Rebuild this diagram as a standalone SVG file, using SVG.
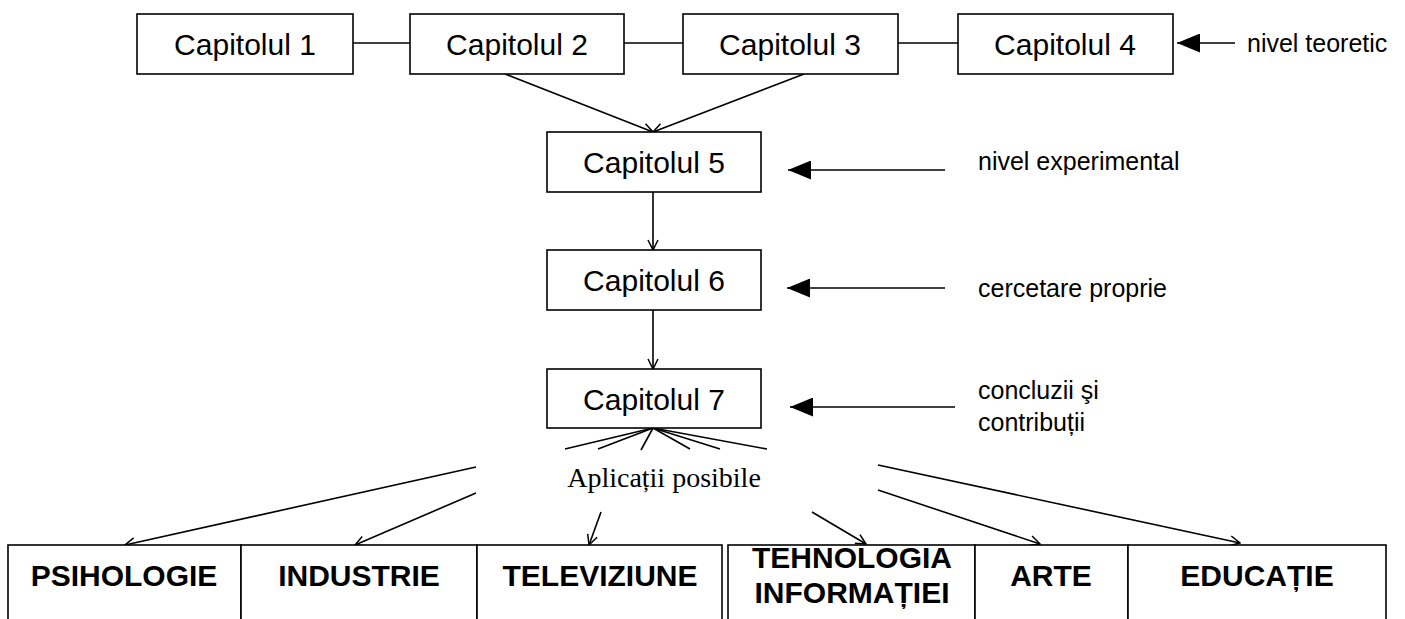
<svg xmlns="http://www.w3.org/2000/svg" width="1405" height="619" viewBox="0 0 1405 619">
<style>
.box{fill:#fff;stroke:#000;stroke-width:1.6}
.ln{fill:none;stroke:#000;stroke-width:1.6}
.t{font-family:"Liberation Sans",Arial,sans-serif;font-size:30px;fill:#000;text-anchor:middle}
.s{font-family:"Liberation Sans",Arial,sans-serif;font-size:25px;fill:#000}
.b{font-family:"Liberation Sans",Arial,sans-serif;font-size:30px;font-weight:bold;fill:#000;text-anchor:middle}
.serif{font-family:"Liberation Serif","Times New Roman",serif;font-size:28px;fill:#000;text-anchor:middle}
</style>
<defs>
<marker id="open" viewBox="0 0 12 12" refX="11" refY="6" markerWidth="12" markerHeight="12" markerUnits="userSpaceOnUse" orient="auto">
<path d="M1,1 L11,6 L1,11" fill="none" stroke="#000" stroke-width="1.5"/>
</marker>
<marker id="fill" viewBox="0 0 23 19" refX="23" refY="9.5" markerWidth="23" markerHeight="19" markerUnits="userSpaceOnUse" orient="auto">
<path d="M0,0 L23,9.5 L0,19 Z" fill="#000"/>
</marker>
</defs>

<g id="connectors">
<line class="ln" x1="353" y1="43" x2="410" y2="43"/>
<line class="ln" x1="624" y1="43" x2="683" y2="43"/>
<line class="ln" x1="898" y1="43" x2="958" y2="43"/>
<line class="ln" x1="505" y1="74" x2="653" y2="132" marker-end="url(#open)"/>
<line class="ln" x1="804" y1="74" x2="653" y2="132" marker-end="url(#open)"/>
<line class="ln" x1="653" y1="192" x2="653" y2="250" marker-end="url(#open)"/>
<line class="ln" x1="653" y1="310" x2="653" y2="369" marker-end="url(#open)"/>
<line class="ln" x1="1235" y1="43" x2="1177" y2="43" marker-end="url(#fill)"/>
<line class="ln" x1="945" y1="170" x2="788" y2="170" marker-end="url(#fill)"/>
<line class="ln" x1="945" y1="288" x2="787" y2="288" marker-end="url(#fill)"/>
<line class="ln" x1="955" y1="407" x2="790" y2="407" marker-end="url(#fill)"/>
<line class="ln" x1="653" y1="428" x2="565" y2="449"/>
<line class="ln" x1="653" y1="428" x2="598" y2="449"/>
<line class="ln" x1="653" y1="428" x2="641" y2="450"/>
<line class="ln" x1="653" y1="428" x2="690" y2="449"/>
<line class="ln" x1="653" y1="428" x2="720" y2="449"/>
<line class="ln" x1="653" y1="428" x2="767" y2="449"/>
<line class="ln" x1="476" y1="467" x2="125" y2="545" marker-end="url(#open)"/>
<line class="ln" x1="476" y1="493" x2="355" y2="545" marker-end="url(#open)"/>
<line class="ln" x1="601" y1="512" x2="589" y2="545" marker-end="url(#open)"/>
<line class="ln" x1="812" y1="512" x2="866" y2="544" marker-end="url(#open)"/>
<line class="ln" x1="878" y1="490" x2="1040" y2="544" marker-end="url(#open)"/>
<line class="ln" x1="878" y1="465" x2="1240" y2="543" marker-end="url(#open)"/>
</g>

<g id="cap1"><rect class="box" x="137" y="14" width="216" height="60"/><text class="t" x="245" y="55">Capitolul 1</text></g>
<g id="cap2"><rect class="box" x="410" y="14" width="214" height="60"/><text class="t" x="517" y="55">Capitolul 2</text></g>
<g id="cap3"><rect class="box" x="683" y="14" width="215" height="60"/><text class="t" x="790" y="55">Capitolul 3</text></g>
<g id="cap4"><rect class="box" x="958" y="14" width="215" height="60"/><text class="t" x="1065" y="55">Capitolul 4</text></g>
<g id="cap5"><rect class="box" x="547" y="132" width="214" height="60"/><text class="t" x="654" y="173">Capitolul 5</text></g>
<g id="cap6"><rect class="box" x="547" y="250" width="214" height="60"/><text class="t" x="654" y="291">Capitolul 6</text></g>
<g id="cap7"><rect class="box" x="547" y="369" width="214" height="59"/><text class="t" x="654" y="410">Capitolul 7</text></g>

<g id="label-teoretic"><text class="s" x="1247" y="52">nivel teoretic</text></g>
<g id="label-experimental"><text class="s" x="978" y="170">nivel experimental</text></g>
<g id="label-cercetare"><text class="s" x="978" y="297">cercetare proprie</text></g>
<g id="label-concluzii"><text class="s" x="978" y="399">concluzii şi</text><text class="s" x="978" y="431">contribuții</text></g>

<g id="aplicatii"><text class="serif" x="664" y="487">Aplicații posibile</text></g>

<g id="psihologie"><rect class="box" x="8" y="545" width="233" height="100"/><text class="b" x="124" y="586">PSIHOLOGIE</text></g>
<g id="industrie"><rect class="box" x="241" y="545" width="236" height="100"/><text class="b" x="359" y="586">INDUSTRIE</text></g>
<g id="televiziune"><rect class="box" x="477" y="545" width="245" height="100"/><text class="b" x="600" y="586">TELEVIZIUNE</text></g>
<g id="tehnologia"><rect class="box" x="728" y="545" width="247" height="100"/><text class="b" x="852" y="568">TEHNOLOGIA</text><text class="b" x="852" y="603">INFORMAȚIEI</text></g>
<g id="arte"><rect class="box" x="975" y="545" width="153" height="100"/><text class="b" x="1051" y="586">ARTE</text></g>
<g id="educatie"><rect class="box" x="1128" y="545" width="258" height="100"/><text class="b" x="1257" y="586">EDUCAȚIE</text></g>
</svg>
